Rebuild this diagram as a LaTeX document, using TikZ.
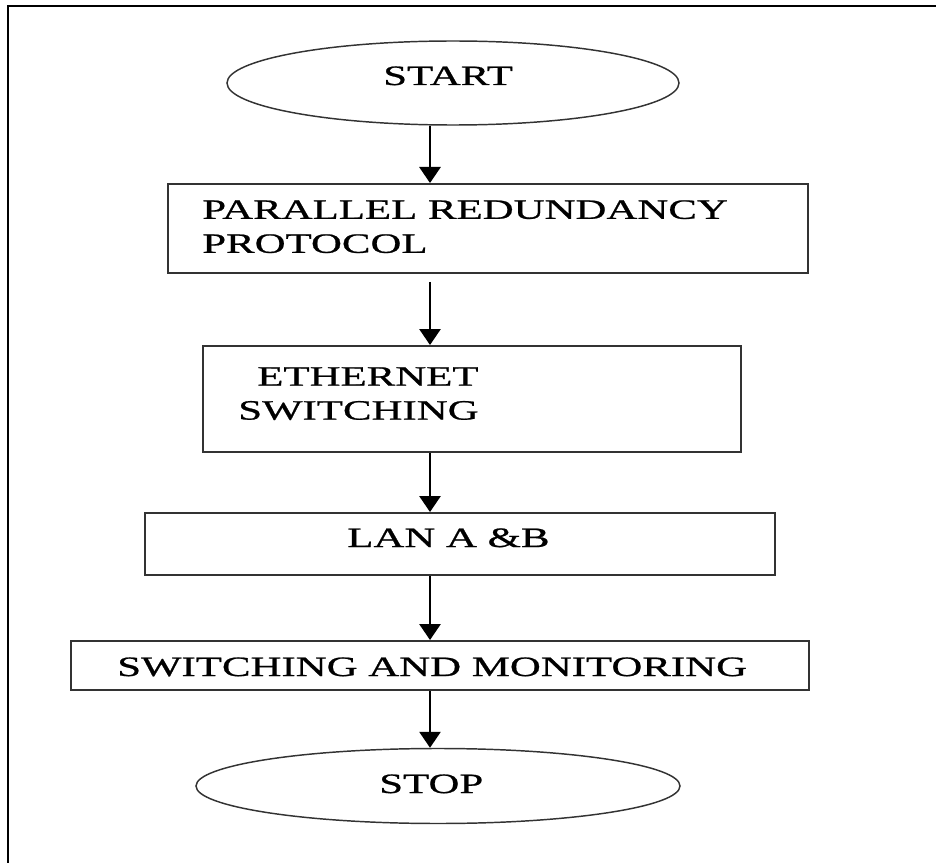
\documentclass[tikz,border=0pt]{standalone}
\usepackage{fontspec}
\setmainfont{Liberation Serif}[FakeStretch=1.53, FakeBold=0.8]
\usepackage{tikz}
\usetikzlibrary{arrows.meta, shapes.geometric, positioning}
\tikzset{
    terminal/.style={ellipse, draw=black!80, line width=1.1pt, inner sep=0pt},
    process/.style={rectangle, draw=black!80, line width=1.4pt, inner sep=0pt, anchor=north west},
    steptext/.style={inner sep=0pt, align=left, font={\fontsize{21}{25.5}\selectfont}},
    flow/.style={line width=1.3pt, -{Triangle[width=16pt, length=12pt]}}
}

\begin{document}
\begin{tikzpicture}[x=0.75pt, y=-0.75pt]
    \useasboundingbox (0,0) rectangle (936,863);
    \clip (0,0) rectangle (936,863);
    % outer frame
    \draw[line width=1.6pt] (8,880) -- (8,6) -- (950,6);
    \coordinate (axis) at (430,0);

    % shapes
    \node[terminal, minimum width=339pt, minimum height=63pt] (start) at (453,83) {};
    \node[process, minimum width=480pt, minimum height=66.75pt] (prr) at (167,183) {};
    \node[process, minimum width=403.5pt, minimum height=79.5pt] (eth) at (202,345) {};
    \node[process, minimum width=472.5pt, minimum height=46.5pt] (lan) at (144,512) {};
    \node[process, minimum width=553.5pt, minimum height=36.75pt] (swm) at (70,640) {};
    \node[terminal, minimum width=363pt, minimum height=56.25pt] (stop) at (438,786) {};

    % texts
    \node[steptext, anchor=base west] (start-text) at (383,85) {START};
    \node[steptext, anchor=north west] (prr-text) at (202,200) {PARALLEL REDUNDANCY\\PROTOCOL};
    \node[steptext, anchor=north west] (eth-text) at (238,367) {\hspace*{14.25pt}ETHERNET\\SWITCHING};
    \node[steptext, anchor=base west] (lan-text) at (347,547) {LAN A \&B};
    \node[steptext, anchor=base west] (swm-text) at (117,676) {SWITCHING AND MONITORING};
    \node[steptext, anchor=base west] (stop-text) at (379,793) {STOP};

    % arrows
    \draw[flow] (start.south -| axis) -- (prr.north -| axis);
    \draw[flow, shorten <=6pt] (prr.south -| axis) -- (eth.north -| axis);
    \draw[flow] (eth.south -| axis) -- (lan.north -| axis);
    \draw[flow] (lan.south -| axis) -- (swm.north -| axis);
    \draw[flow] (swm.south -| axis) -- (stop.north -| axis);
\end{tikzpicture}
\end{document}
